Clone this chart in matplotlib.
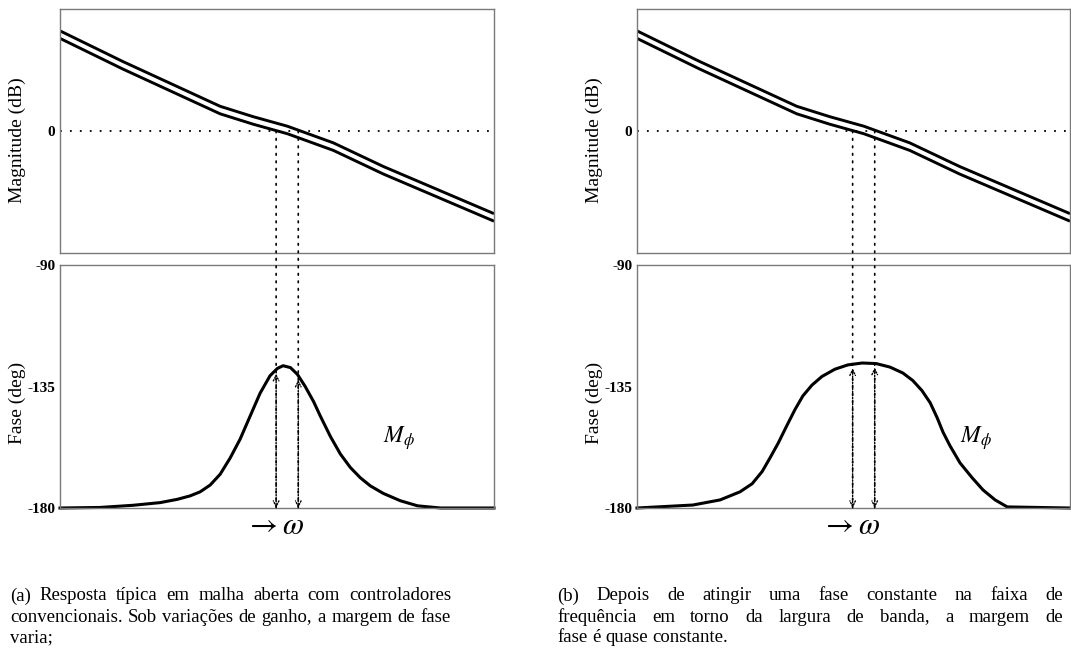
import numpy as np
import matplotlib
matplotlib.use("Agg")
import matplotlib.pyplot as plt
from matplotlib.patches import ConnectionPatch

plt.rcParams['font.family'] = ['Liberation Serif', 'DejaVu Serif']
plt.rcParams['mathtext.fontset'] = 'stix'

# ---------------- data ----------------
# normalized frequency axis (log-frequency, arbitrary units 0..10)
mag_x = [0.0, 1.45, 3.69, 4.45, 5.24, 6.30, 7.45, 10.0]
mag_db = [47.4, 32.3, 10.3, 5.2, 0.5, -7.7, -19.3, -42.5]
gain_offsets = [1.85, -1.85]          # two gain values (dB)
crossover_x = [4.98, 5.49]            # 0 dB crossings for the two gains

phase_a_x = [0.0, 0.92, 1.68, 2.31, 2.70, 3.00, 3.23, 3.46, 3.69, 3.92, 4.15,
             4.38, 4.61, 4.84, 5.01, 5.14, 5.31, 5.47, 5.65, 5.84, 6.00, 6.23,
             6.46, 6.69, 6.92, 7.15, 7.45, 7.84, 8.24, 8.77, 10.0]
phase_a = [-180.0, -179.8, -179.0, -178.0, -176.8, -175.5, -174.0, -171.5,
           -167.5, -161.5, -154.5, -146.0, -137.5, -131.0, -128.3, -127.3,
           -128.0, -130.5, -135.0, -140.5, -146.0, -153.5, -160.0, -165.0,
           -168.8, -171.8, -174.6, -177.3, -179.2, -180.0, -180.0]

phase_b_x = [0.0, 1.29, 1.92, 2.38, 2.66, 2.89, 3.07, 3.26, 3.46, 3.65, 3.83,
             4.04, 4.27, 4.57, 4.87, 5.20, 5.52, 5.84, 6.14, 6.37, 6.58, 6.77,
             6.93, 7.07, 7.23, 7.46, 7.74, 7.99, 8.27, 8.55, 10.0]
phase_b = [-180.0, -178.9, -177.0, -174.0, -171.0, -166.5, -161.5, -156.0,
           -149.5, -143.5, -138.5, -134.5, -131.3, -128.6, -127.0, -126.3,
           -126.5, -127.8, -130.0, -132.8, -136.5, -141.0, -146.5, -152.0,
           -157.0, -163.3, -168.8, -173.3, -177.0, -179.6, -180.0]

mag_ticks = [0]
phase_ticks = [-90, -135, -180]
caption_a = ["(a) Resposta típica em malha aberta com controladores",
             "convencionais. Sob variações de ganho, a margem de fase",
             "varia;"]
caption_b = ["(b) Depois de atingir uma fase constante na faixa de",
             "frequência em torno da largura de banda, a margem de",
             "fase é quase constante."]

# ---------------- figure ----------------
W, H = 1071, 649
fig = plt.figure(figsize=(W / 100, H / 100), dpi=100)

spine_c = '#7a7a7a'
CAP_FS = 13.5


def px_rect(x0, y0, x1, y1):
    return [x0 / W, 1 - y1 / H, (x1 - x0) / W, (y1 - y0) / H]


def style(ax):
    for s in ax.spines.values():
        s.set_color(spine_c)
        s.set_linewidth(1.0)
    ax.tick_params(length=0, labelsize=11, pad=3.5)
    ax.set_xticks([])
    for lab in ax.get_yticklabels():
        lab.set_fontweight('bold')


panels = [
    (60, 494, phase_a_x, phase_a, caption_a, 10, 451),
    (637, 1070, phase_b_x, phase_b, caption_b, 557, 1063),
]

renderer = fig.canvas.get_renderer()

for (x0, x1, px_, ph_, cap, cx0, cx1) in panels:
    axm = fig.add_axes(px_rect(x0, 9, x1, 253))
    axp = fig.add_axes(px_rect(x0, 265, x1, 508))

    # magnitude
    for g in gain_offsets:
        axm.plot(mag_x, np.array(mag_db) + g, color='black', lw=2.1,
                 solid_capstyle='butt', solid_joinstyle='round')
    axm.axhline(0, color='black', ls=(0, (1, 4.5)), lw=1.3)
    axm.set_xlim(0, 10)
    axm.set_ylim(-60, 60)
    axm.set_yticks(mag_ticks)
    axm.set_yticklabels([str(t) for t in mag_ticks])
    axm.set_ylabel('Magnitude (dB)', fontsize=14)
    axm.yaxis.set_label_coords(-0.078, 0.463)
    style(axm)

    # phase
    axp.plot(px_, ph_, color='black', lw=2.2, clip_on=False,
             solid_joinstyle='round')
    axp.set_xlim(0, 10)
    axp.set_ylim(-180, -90)
    axp.set_yticks(phase_ticks)
    axp.set_yticklabels([str(t) for t in phase_ticks])
    axp.set_ylabel('Fase (deg)', fontsize=14)
    axp.yaxis.set_label_coords(-0.078, 0.432)
    style(axp)

    axp.text(7.82, -154, r'$M_\phi$', fontsize=17, ha='center', va='center')

    # crossover marks
    for xc in crossover_x:
        con = ConnectionPatch(xyA=(xc, 0), coordsA=axm.transData,
                              xyB=(xc, -180), coordsB=axp.transData,
                              color='black', lw=1.2, ls=(0, (1, 3.5)))
        fig.add_artist(con)
        yc = float(np.interp(xc, px_, ph_)) - 1.5
        axp.annotate('', xy=(xc, -180), xytext=(xc, yc),
                     arrowprops=dict(arrowstyle='<->', color='black', lw=1.0,
                                     ls=(0, (1, 1.2)), mutation_scale=10,
                                     shrinkA=0, shrinkB=0))

    xmid = np.mean(crossover_x)
    axp.text(xmid - 0.3, -181.3, r'$\rightarrow\omega$', fontsize=22,
             ha='center', va='top', clip_on=False)

    # justified caption
    line_y = [596, 617, 638]
    for i, line in enumerate(cap):
        words = line.split(' ')
        texts = [fig.text(0, 1 - line_y[i] / H, w, fontsize=CAP_FS,
                          va='center', ha='left') for w in words]
        widths = [t.get_window_extent(renderer).width for t in texts]
        if i < len(cap) - 1 and len(words) > 1:
            gap = ((cx1 - cx0) - sum(widths)) / (len(words) - 1)
        else:
            sp = fig.text(0, 0, 'a a', fontsize=CAP_FS)
            sa = fig.text(0, 0, 'aa', fontsize=CAP_FS)
            gap = sp.get_window_extent(renderer).width - sa.get_window_extent(renderer).width
            sp.remove()
            sa.remove()
        xpos = cx0
        for t, w in zip(texts, widths):
            t.set_x(xpos / W)
            xpos += w + gap

fig.savefig('out.png', dpi=100)
